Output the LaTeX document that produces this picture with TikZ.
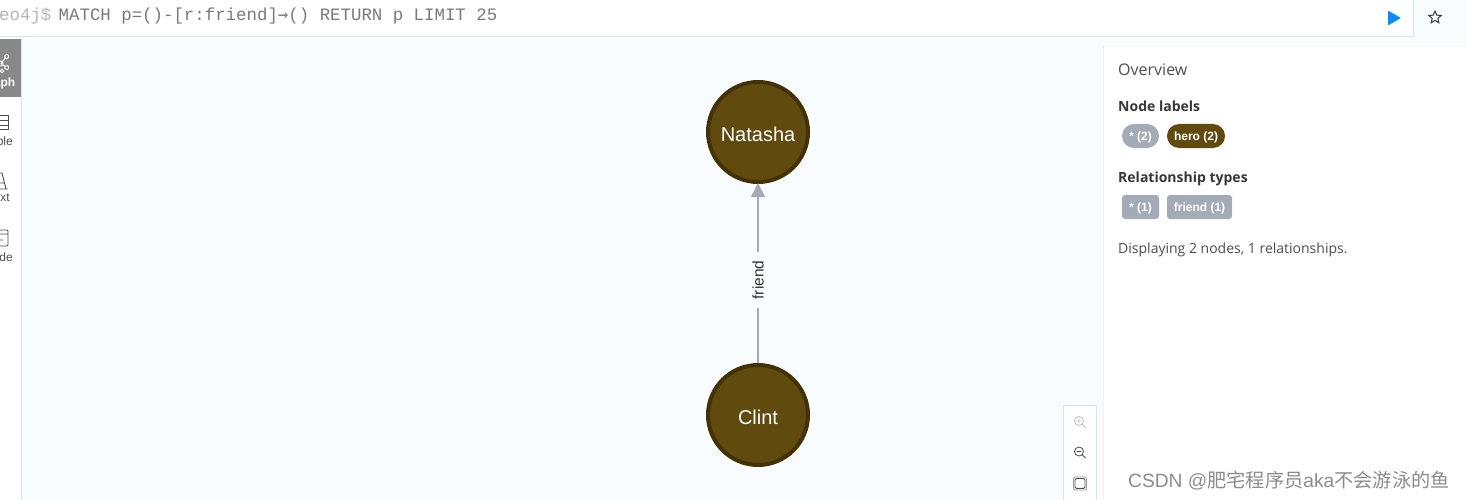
\documentclass[tikz,border=0pt]{standalone}
\usepackage{fontspec}
\setmainfont{Liberation Sans}
\newfontfamily\opensans{Open Sans}
\newfontfamily\codefont{Liberation Mono}
\newfontfamily\arrowfont{DejaVu Sans Mono}
\newfontfamily\cjkfont{Noto Sans CJK SC}
\usetikzlibrary{arrows.meta,shapes.geometric}
\definecolor{pagebg}{HTML}{F9FCFF}
\definecolor{rulecol}{HTML}{D6E4F0}
\definecolor{nodefill}{HTML}{604A0E}
\definecolor{nodeline}{HTML}{423204}
\definecolor{greyish}{HTML}{A5ABB6}
\definecolor{cmdtext}{HTML}{7A7A7A}
\definecolor{headtext}{HTML}{383838}
\definecolor{softtext}{HTML}{4D4D4D}
\definecolor{playblue}{HTML}{0A8CFF}
\definecolor{sidegrey}{HTML}{888888}
\newcommand{\fsz}[1]{\fontsize{#1}{#1}\selectfont}
\tikzset{
  x=1pt,y=-1pt,
  hero/.style={circle,draw=nodeline,fill=nodefill,line width=4pt,minimum size=100pt,inner sep=0pt,text=white,font=\fsz{20}},
  herotext/.style={inner sep=0pt,text=white,font=\fsz{20}},
  edge/.style={draw=greyish,line width=1.6pt,-{Triangle[length=14pt,width=14pt,fill=greyish]},shorten >=-1pt},
  edgelabel/.style={fill=pagebg,rotate=90,inner xsep=0pt,inner ysep=3pt,minimum width=56pt,text=black!80,font=\fsz{15.5}},
  pill/.style={fill=#1,rounded corners=12pt,minimum height=24pt,inner sep=0pt,text=white,font=\fsz{12}\bfseries,text height=9pt,text depth=1pt},
  tag/.style={fill=greyish,rounded corners=3pt,minimum height=24pt,inner sep=0pt,text=white,font=\fsz{12}\bfseries,text height=9pt,text depth=1pt},
  overline/.style={anchor=west,inner sep=0pt,font=\opensans\fsz{14},text=softtext},
  overhead/.style={anchor=west,inner sep=0pt,font=\opensans\fsz{14}\bfseries,text=headtext},
  sidelabel/.style={anchor=east,inner sep=0pt,font=\fsz{12},text=softtext},
  icon/.style={draw=softtext,line width=.9pt},
}
\begin{document}
\begin{tikzpicture}
\useasboundingbox (0,0) rectangle (1466,500);
\clip (0,0) rectangle (1466,500);
\fill[pagebg] (0,0) rectangle (1466,500);
% top bar
\fill[white] (0,0) rectangle (1413,36);
\draw[rulecol,line width=1pt] (0,36.5) -- (1413.5,36.5) -- (1413.5,0);
\node[anchor=base west,inner sep=0pt,font=\codefont\fsz{17.4},text=cmdtext!55] (prompt) at (-1,21) {eo4j\$};
\node[anchor=base west,inner sep=0pt,font=\codefont\fsz{17.4},text=cmdtext] (query) at (58.5,21) {MATCH p=()-[r:friend]{\arrowfont →}() RETURN p LIMIT 25};
\fill[playblue,rounded corners=.8pt] (1388,10.5) -- (1401,18) -- (1388,25.5) -- cycle;
\node[star,star points=5,star point ratio=2.2,draw=headtext,line width=1pt,minimum size=13pt,inner sep=0pt] (fav) at (1435,17.5) {};
% left sidebar
\fill[white] (0,38) rectangle (21,500);
\draw[rulecol,line width=.8pt] (21.5,38) -- (21.5,500);
\fill[sidegrey] (0,39) rectangle (21,97);
\begin{scope}[draw=white,line width=.9pt]
  \draw (1,63.5) -- (5.3,58) (1,63.5) -- (5.2,66.5);
  \draw (6.7,56.5) circle (2) (6.7,67.5) circle (2) (0.5,63.5) circle (2.5) (2,71) circle (1.8);
\end{scope}
\node[anchor=east,inner sep=0pt,font=\fsz{12}\bfseries,text=white] (graphlab) at (15.5,83) {aph};
\draw[icon] (-3,115.5) rectangle (8,129.5) (-3,120) -- (8,120) (-3,125) -- (8,125);
\node[sidelabel] (tablab) at (13,141) {ble};
\draw[icon] (-1,173) -- (2,173) -- (6,189) (-2,189) -- (7.5,189) (-2,183) -- (4,183);
\node[sidelabel] (txtlab) at (10,198) {xt};
\draw[icon,rounded corners=1pt] (-3,230) rectangle (8,246) (-3,234) -- (8,234) (-1,240) -- (3,240);
\node[sidelabel] (codelab) at (13,257) {de};
% graph
\node[hero] (natasha) at (758,132) {};
\node[herotext] (natashatext) at (758,134) {Natasha};
\node[hero] (clint) at (758,415) {};
\node[herotext] (clinttext) at (758,417) {Clint};
\draw[edge] (clint) -- (natasha) node[edgelabel,pos=.464] (friendlab) {friend};
% overview panel
\fill[rulecol!45] (1103,46.5) rectangle (1466,500);
\fill[white] (1104,47.5) rectangle (1466,500);
\node[anchor=west,inner sep=0pt,font=\opensans\fsz{16},text=softtext] (overview) at (1118,69.5) {Overview};
\node[overhead] (nl) at (1118,106) {Node labels};
\node[pill=greyish,minimum width=37pt] (p1) at (1140.5,136) {* (2)};
\node[pill=nodefill,minimum width=58pt] (p2) at (1196,136) {hero (2)};
\node[overhead] (rt) at (1118,178.5) {Relationship types};
\node[tag,minimum width=37pt] (t1) at (1140.5,207) {* (1)};
\node[tag,minimum width=65pt] (t2) at (1199.5,207) {friend (1)};
\node[overline] (disp) at (1118,250) {Displaying 2 nodes, 1 relationships.};
% zoom controls
\draw[rulecol,fill=white,line width=1pt] (1063.5,405.5) rectangle (1096,501);
\begin{scope}[line width=.8pt]
  \draw[black!25] (1079,421) circle (4.5) (1082.3,424.3) -- (1085.5,427.5) (1076.7,421) -- (1081.3,421) (1079,418.7) -- (1079,423.3);
  \draw[black!70] (1079,451.5) circle (4.5) (1082.3,454.8) -- (1085.5,458) (1076.7,451.5) -- (1081.3,451.5);
  \draw[black!70,rounded corners=1.5pt] (1075,478.5) rectangle (1085,488.5);
  \draw[black!40,rounded corners=2pt] (1073.5,477) rectangle (1086.5,490);
\end{scope}
% watermark
\node[anchor=west,inner sep=0pt,text=black!45,font=\fsz{19.2}] (mark) at (1128,481) {CSDN @{\cjkfont 肥宅程序员}aka{\cjkfont 不会游泳的鱼}};
\end{tikzpicture}
\end{document}
